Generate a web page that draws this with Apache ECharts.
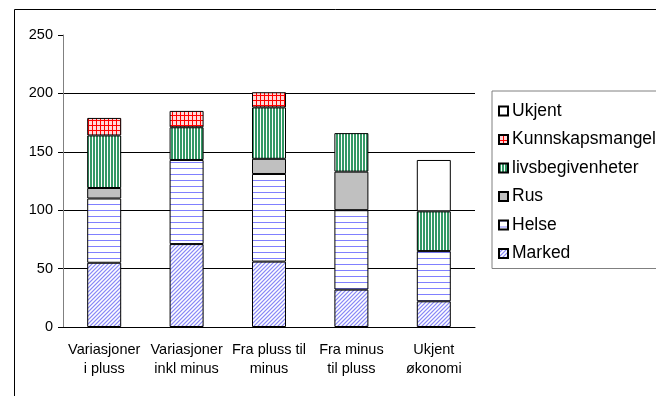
<!DOCTYPE html>
<html>
<head>
<meta charset="utf-8">
<script src="https://cdn.jsdelivr.net/npm/echarts@6/dist/echarts.min.js"></script>
<style>
  html, body { margin: 0; padding: 0; background: #fff; }
  #chart { width: 656px; height: 396px; }
</style>
</head>
<body>
<div id="chart"></div>
<script>
// Categories (two-line labels) and the stacked series values
const categories = ['Variasjoner\ni pluss', 'Variasjoner\ninkl minus', 'Fra pluss til\nminus', 'Fra minus\ntil pluss', 'Ukjent\nøkonomi'];
const marked = [55, 71, 56, 32, 22];
const helse = [55, 72, 75, 68, 43];
const rus = [9, null, 13, 33, null];
const livsbegivenheter = [45, 28, 44, 33, 34];
const kunnskapsmangel = [15, 14, 13, null, null];
const ukjent = [null, null, null, null, 44];
const yTicks = { min: 0, max: 250, interval: 50 };
const legendOrder = ['Ukjent', 'Kunnskapsmangel', 'livsbegivenheter', 'Rus', 'Helse', 'Marked'];

// Small tiled fill patterns drawn on canvases
function tile(w, h, base, draw) {
  const c = document.createElement('canvas');
  c.width = w; c.height = h;
  const g = c.getContext('2d');
  g.fillStyle = base;
  g.fillRect(0, 0, w, h);
  draw(g);
  return { image: c, repeat: 'repeat' };
}
// fine upward-diagonal texture in light blue
const patMarked = tile(4, 4, '#d4d4fc', g => {
  g.fillStyle = '#8a8af6';
  for (let i = 0; i < 4; i++) {
    g.fillRect(i, (3 - i) % 4, 1, 1);
  }
  g.fillStyle = '#ffffff';
  for (let i = 0; i < 4; i++) {
    g.fillRect(i, (5 - i) % 4, 1, 1);
  }
});
const patHelse = tile(1, 6, '#ffffff', g => {
  g.fillStyle = '#8080ff';
  g.fillRect(0, 0, 1, 1);
});
const patLivs = tile(3, 1, '#ffffff', g => {
  g.fillStyle = '#339966';
  g.fillRect(0, 0, 2, 1);
});
const patKunn = tile(4, 5, '#ffffff', g => {
  g.fillStyle = '#ffd8d8';
  g.fillRect(1, 1, 3, 4);
  g.fillStyle = '#ff0000';
  g.fillRect(0, 0, 1, 5);
  g.fillRect(0, 0, 4, 1);
});

const font = 'Liberation Sans, Arial, sans-serif';

function series(name, data, color) {
  return {
    name, type: 'bar', stack: 'total', data,
    barWidth: 34,
    itemStyle: { color, borderColor: '#000', borderWidth: 1 },
    emphasis: { disabled: true }
  };
}

const chart = echarts.init(document.getElementById('chart'), null, { renderer: 'canvas' });
chart.setOption({
  animation: false,
  backgroundColor: '#fff',
  graphic: [{
    type: 'rect', left: 12, top: 7, silent: true,
    shape: { width: 700, height: 450 },
    style: { fill: null, stroke: '#000', lineWidth: 1 }
  }],
  grid: { left: 63, right: 181, top: 35, bottom: 69 },
  legend: {
    orient: 'vertical',
    left: 492, top: 91,
    data: legendOrder,
    icon: 'rect',
    padding: [10, 60, 5, 6],
    itemGap: 8.5,
    itemWidth: 9, itemHeight: 9,
    borderColor: '#808080', borderWidth: 1,
    selectedMode: false,
    textStyle: { fontFamily: font, fontSize: 17.5, color: '#000', lineHeight: 20, padding: [0, 0, 0, -1] }
  },
  xAxis: {
    type: 'category',
    data: categories,
    axisLine: { lineStyle: { color: '#000', width: 1 } },
    axisTick: { interval: 0, length: 5, lineStyle: { color: '#000' } },
    axisLabel: { interval: 0, margin: 13, fontFamily: font, fontSize: 14.5, color: '#000', lineHeight: 19 }
  },
  yAxis: {
    type: 'value',
    min: yTicks.min, max: yTicks.max, interval: yTicks.interval,
    axisLine: { show: true, lineStyle: { color: '#808080', width: 1 } },
    axisTick: { show: true, length: 5, lineStyle: { color: '#000' } },
    axisLabel: { margin: 10, fontFamily: font, fontSize: 14.5, color: '#000' },
    splitLine: { show: true, lineStyle: { color: ['#000', '#000', '#000', '#000', '#000', 'rgba(0,0,0,0)'], width: 1 } }
  },
  series: [
    series('Marked', marked, patMarked),
    series('Helse', helse, patHelse),
    series('Rus', rus, '#c0c0c0'),
    series('livsbegivenheter', livsbegivenheter, patLivs),
    series('Kunnskapsmangel', kunnskapsmangel, patKunn),
    series('Ukjent', ukjent, '#ffffff')
  ]
});
</script>
</body>
</html>
